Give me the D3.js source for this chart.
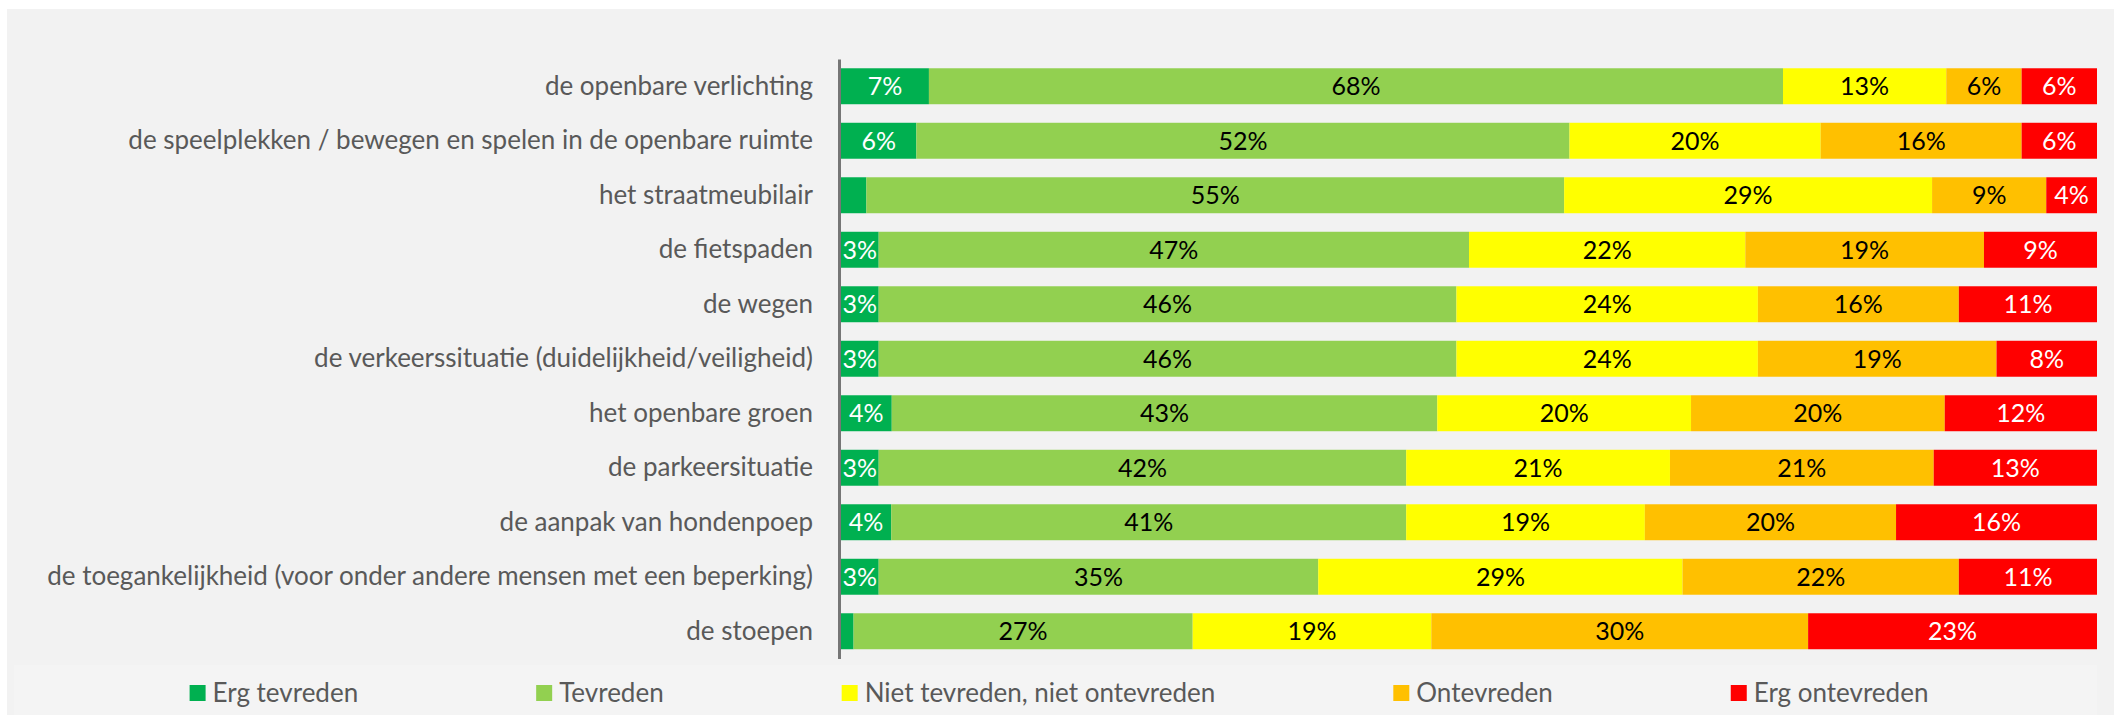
<!DOCTYPE html>
<html>
<head>
<meta charset="utf-8">
<script src="https://cdn.jsdelivr.net/npm/d3@7"></script>
<style>
  body { margin: 0; background: #fff; }
  svg { display: block; }
</style>
</head>
<body>
<svg id="chart" width="2114" height="715"></svg>
<script>
// categories (top to bottom)
const categories = [
  "de openbare verlichting",
  "de speelplekken / bewegen en spelen in de openbare ruimte",
  "het straatmeubilair",
  "de fietspaden",
  "de wegen",
  "de verkeerssituatie (duidelijkheid/veiligheid)",
  "het openbare groen",
  "de parkeersituatie",
  "de aanpak van hondenpoep",
  "de toegankelijkheid (voor onder andere mensen met een beperking)",
  "de stoepen"
];

const series = ["Erg tevreden", "Tevreden", "Niet tevreden, niet ontevreden", "Ontevreden", "Erg ontevreden"];

// percentages per series, same order as categories
const ergTevreden   = [7, 6, 2, 3, 3, 3, 4, 3, 4, 3, 1];
const tevreden      = [68, 52, 55, 47, 46, 46, 43, 42, 41, 35, 27];
const neutraal      = [13, 20, 29, 22, 24, 24, 20, 21, 19, 29, 19];
const ontevreden    = [6, 16, 9, 19, 16, 19, 20, 21, 20, 22, 30];
const ergOntevreden = [6, 6, 4, 9, 11, 8, 12, 13, 16, 11, 23];

const colors = ["#00B050", "#92D050", "#FFFF00", "#FFC000", "#FF0000"];
const labelColors = ["#ffffff", "#000000", "#000000", "#000000", "#ffffff"];

const valueArrays = [ergTevreden, tevreden, neutraal, ontevreden, ergOntevreden];
const rows = categories.map((c, i) => {
  const r = { cat: c };
  series.forEach((s, j) => { r[s] = valueArrays[j][i]; });
  return r;
});

const width = 2114, height = 715;
const svg = d3.select("#chart");
const font = "Lato, 'Open Sans', sans-serif";

// backgrounds
svg.append("rect").attr("x", 7).attr("y", 9).attr("width", width - 7).attr("height", height - 9).attr("fill", "#F2F2F2");
svg.append("rect").attr("x", 14).attr("y", 665).attr("width", 2083).attr("height", 50).attr("fill", "#F4F4F4");

const x = d3.scaleLinear().domain([0, 1]).range([841, 2097]);
const y = d3.scaleBand().domain(categories).range([59, 658.5]).paddingInner(0.34).paddingOuter(0.17);
const color = d3.scaleOrdinal().domain(series).range(colors);

const stacked = d3.stack().keys(series).offset(d3.stackOffsetExpand)(rows);

const layers = svg.append("g").selectAll("g")
  .data(stacked)
  .join("g")
  .attr("fill", d => color(d.key));

layers.selectAll("rect")
  .data(d => d)
  .join("rect")
  .attr("x", d => x(d[0]))
  .attr("y", d => y(d.data.cat))
  .attr("width", d => x(d[1]) - x(d[0]))
  .attr("height", y.bandwidth());

// value labels (small segments stay unlabelled)
stacked.forEach((layer, j) => {
  svg.append("g").selectAll("text")
    .data(layer.filter(d => d.data[layer.key] >= 3))
    .join("text")
    .attr("x", d => (x(d[0]) + x(d[1])) / 2)
    .attr("y", d => y(d.data.cat) + y.bandwidth() / 2)
    .attr("dy", "0.36em")
    .attr("text-anchor", "middle")
    .attr("font-family", font)
    .attr("font-size", 25)
    .attr("fill", labelColors[j])
    .text(d => d.data[layer.key] + "%");
});

// category axis
const yAxis = svg.append("g")
  .attr("transform", "translate(839,0)")
  .call(d3.axisLeft(y).tickSize(0).tickPadding(26));
yAxis.select(".domain").attr("stroke", "#767676").attr("stroke-width", 3);
yAxis.selectAll("text")
  .attr("font-family", font)
  .attr("font-size", 26)
  .attr("fill", "#595959");

// legend, centered with equal gaps
const legend = svg.append("g");
const items = legend.selectAll("g").data(series).join("g");
items.append("rect")
  .attr("y", 685).attr("width", 16).attr("height", 16)
  .attr("fill", d => color(d));
items.append("text")
  .attr("x", 23)
  .attr("y", 693)
  .attr("dy", "0.36em")
  .attr("font-family", font)
  .attr("font-size", 26)
  .attr("fill", "#595959")
  .text(d => d);

const gap = 178;
const widths = [];
items.each(function () { widths.push(23 + this.querySelector("text").getComputedTextLength()); });
const total = d3.sum(widths) + gap * (widths.length - 1);
let cx = 1059 - total / 2;
items.attr("transform", (d, i) => {
  const t = `translate(${cx},0)`;
  cx += widths[i] + gap;
  return t;
});
</script>
</body>
</html>
